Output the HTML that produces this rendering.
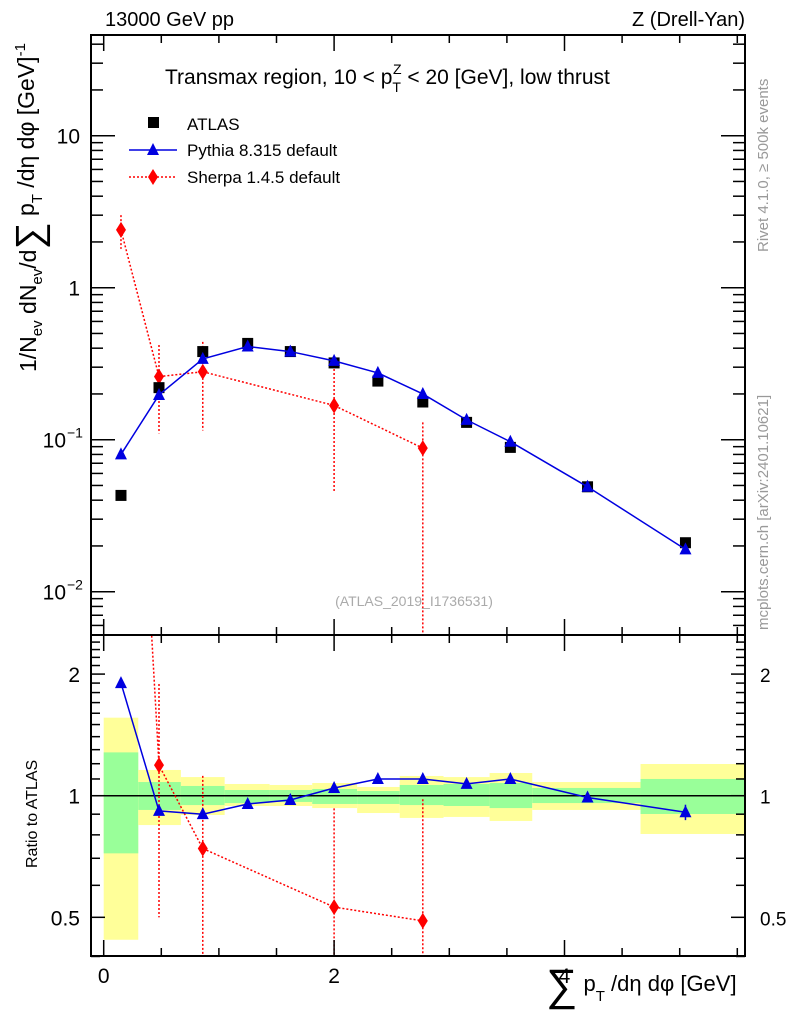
<!DOCTYPE html>
<html><head><meta charset="utf-8"><style>
html,body{margin:0;background:#fff;overflow:hidden;width:786px;height:1024px}
svg{display:block;font-family:"Liberation Sans",sans-serif;overflow:hidden}
</style></head><body>
<svg id="c" width="786" height="1024" viewBox="0 0 786 1024"></svg>
<script>
const xCenters=[0.15,0.48,0.86,1.25,1.62,2.0,2.38,2.77,3.15,3.53,4.2,5.05];
const binEdges=[0,0.3,0.67,1.05,1.44,1.81,2.2,2.57,2.95,3.35,3.72,4.66,5.57];
const atlasVals=[0.043,0.22,0.38,0.43,0.38,0.32,0.243,0.177,0.13,0.089,0.049,0.021];
const pythiaVals=[0.08,0.197,0.34,0.41,0.38,0.33,0.275,0.2,0.135,0.097,0.049,0.019];
const sherpaX=[0.15,0.48,0.86,2.0,2.77];
const sherpaVals=[2.4,0.26,0.28,0.168,0.088];
const sherpaLo=[1.8,0.11,0.115,0.045,0.001];
const sherpaHi=[3.0,0.42,0.44,0.31,0.13];
const pythiaRatio=[1.9,0.917,0.90,0.954,0.976,1.045,1.1,1.1,1.07,1.1,0.99,0.91];
const pythiaRatioErr=[0.05,0.01,0.01,0.005,0.005,0.01,0.01,0.02,0.02,0.025,0.02,0.04];
const sherpaRatio=[55,1.19,0.74,0.53,0.49];
const sherpaRatioLo=[20,0.5,0.2,0.2,0.2];
const sherpaRatioHi=[80,1.89,1.12,0.93,0.98];
const yellowHi=[1.56,1.158,1.112,1.069,1.063,1.075,1.051,1.119,1.112,1.138,1.081,1.198];
const yellowLo=[0.44,0.846,0.896,0.943,0.943,0.932,0.906,0.881,0.886,0.866,0.922,0.804];
const greenHi=[1.28,1.081,1.057,1.033,1.033,1.039,1.027,1.063,1.069,1.075,1.045,1.10];
const greenLo=[0.72,0.922,0.948,0.959,0.965,0.954,0.954,0.948,0.943,0.932,0.959,0.901];
const xTicks=[0,2,4];
const mainTicks=[{v:10,t:"10"},{v:1,t:"1"},{v:0.1,t:"10",e:"−1"},{v:0.01,t:"10",e:"−2"}];
const ratioTicks=[{v:2,t:"2"},{v:1,t:"1"},{v:0.5,t:"0.5"}];
const ratioMinor=[0.4,0.5,0.6,0.7,0.8,0.9,1,1.1,1.2,1.3,1.4,1.5,1.6,1.7,1.8,1.9,2,2.1,2.2,2.3,2.4,2.5];

const L=91,R=745,MT=35,MB=635,RB=956;
const sx=v=>103.7+v*115.2;
const sy=v=>287.7-Math.log10(v)*152;
const ry=v=>795.7-Math.log10(v)*404;
const NS="http://www.w3.org/2000/svg";
const svg=document.getElementById('c');
function mk(tag,attrs,parent){const e=document.createElementNS(NS,tag);for(const k in attrs)e.setAttribute(k,attrs[k]);(parent||svg).appendChild(e);return e;}
const defs=mk('defs',{});
const cp1=mk('clipPath',{id:'cm'},defs);mk('rect',{x:L,y:MT,width:R-L,height:MB-MT},cp1);
const cp2=mk('clipPath',{id:'cr'},defs);mk('rect',{x:L,y:MB,width:R-L,height:RB-MB},cp2);
const gm=mk('g',{'clip-path':'url(#cm)'});

const gr=mk('g',{'clip-path':'url(#cr)'});


for(let i=0;i<yellowHi.length;i++){
 const x0=sx(binEdges[i]),x1=sx(binEdges[i+1]);
 const y=mk('rect',{x:x0,y:ry(yellowHi[i]),width:x1-x0,height:ry(yellowLo[i])-ry(yellowHi[i]),fill:'#ffff99'},gr);
 
 const g=mk('rect',{x:x0,y:ry(greenHi[i]),width:x1-x0,height:ry(greenLo[i])-ry(greenHi[i]),fill:'#99ff99'},gr);
 
}
mk('line',{x1:L,x2:R,y1:ry(1),y2:ry(1),stroke:'#000','stroke-width':1.5},gr);

function tri(x,y,p,name){const t=mk('polygon',{points:`${x-6},${y+5} ${x+6},${y+5} ${x},${y-7}`,fill:'#0000e0'},p);}
function dia(x,y,p,name){const d=mk('polygon',{points:`${x},${y-8} ${x+5},${y} ${x},${y+8} ${x-5},${y}`,fill:'#ff0000'},p);}

mk('polyline',{points:sherpaX.map((x,i)=>sx(x)+','+sy(sherpaVals[i])).join(' '),fill:'none',stroke:'#ff0000','stroke-width':1.5,'stroke-dasharray':'2,2'},gm);
sherpaX.forEach((x,i)=>{mk('line',{x1:sx(x),x2:sx(x),y1:sy(sherpaHi[i]),y2:sy(sherpaLo[i]),stroke:'#ff0000','stroke-width':1.5,'stroke-dasharray':'2,2'},gm);dia(sx(x),sy(sherpaVals[i]),gm,'sherpa-point');});
xCenters.forEach((x,i)=>{const r=mk('rect',{x:sx(x)-5.5,y:sy(atlasVals[i])-5.5,width:11,height:11,fill:'#000'},gm);});
mk('polyline',{points:xCenters.map((x,i)=>sx(x)+','+sy(pythiaVals[i])).join(' '),fill:'none',stroke:'#0000e0','stroke-width':1.5},gm);
xCenters.forEach((x,i)=>tri(sx(x),sy(pythiaVals[i]),gm,'pythia-point'));

mk('polyline',{points:sherpaX.map((x,i)=>sx(x)+','+ry(sherpaRatio[i])).join(' '),fill:'none',stroke:'#ff0000','stroke-width':1.5,'stroke-dasharray':'2,2'},gr);
sherpaX.forEach((x,i)=>{mk('line',{x1:sx(x),x2:sx(x),y1:ry(sherpaRatioHi[i]),y2:ry(sherpaRatioLo[i]),stroke:'#ff0000','stroke-width':1.5,'stroke-dasharray':'2,2'},gr);dia(sx(x),ry(sherpaRatio[i]),gr,'sherpa-ratio-point');});
mk('polyline',{points:xCenters.map((x,i)=>sx(x)+','+ry(pythiaRatio[i])).join(' '),fill:'none',stroke:'#0000e0','stroke-width':1.5},gr);
xCenters.forEach((x,i)=>{const X=sx(x);mk('line',{x1:X,x2:X,y1:ry(pythiaRatio[i]+pythiaRatioErr[i]),y2:ry(pythiaRatio[i]-pythiaRatioErr[i]),stroke:'#0000e0','stroke-width':1.5},gr);tri(X,ry(pythiaRatio[i]),gr,'pythia-ratio-point');});

const f1=mk('rect',{x:L,y:MT,width:R-L,height:MB-MT,fill:'none',stroke:'#000','stroke-width':2});

const f2=mk('rect',{x:L,y:MB,width:R-L,height:RB-MB,fill:'none',stroke:'#000','stroke-width':2});


for(let k=0;k<=11;k++){const v=k*0.5,X=sx(v),len=(k%4===0)?16:8;
 [[MT,1],[MB,-1],[MB,1],[RB,-1]].forEach(([y,d])=>mk('line',{x1:X,x2:X,y1:y,y2:y+d*len,stroke:'#000','stroke-width':1.5}));}
for(let e=-3;e<=1;e++)for(let m=1;m<=9;m++){const v=m*Math.pow(10,e),Y=sy(v);if(Y<MT||Y>MB)continue;const len=m===1?24:12;
 mk('line',{x1:L,x2:L+len,y1:Y,y2:Y,stroke:'#000','stroke-width':1.5});mk('line',{x1:R,x2:R-len,y1:Y,y2:Y,stroke:'#000','stroke-width':1.5});}
ratioMinor.forEach(v=>{const Y=ry(v);const major=[0.5,1,2].some(z=>Math.abs(z-v)<1e-6);const len=major?14:9;
 mk('line',{x1:L,x2:L+len,y1:Y,y2:Y,stroke:'#000','stroke-width':1.5});mk('line',{x1:R,x2:R-len,y1:Y,y2:Y,stroke:'#000','stroke-width':1.5});});

function txt(x,y,s,attrs,name){const t=mk('text',Object.assign({x:x,y:y,'font-size':20},attrs||{}));t.textContent=s;return t;}
xTicks.forEach(v=>txt(sx(v),983,String(v),{'text-anchor':'middle','font-size':21},'x-tick-label'));
mainTicks.forEach(t=>{txt(t.e?66:80,sy(t.v)+8,t.t,{'text-anchor':'end','font-size':21},'y-tick-label');
 if(t.e){txt(67,sy(t.v)-2,t.e,{'font-size':14},'y-tick-exponent');}});
ratioTicks.forEach(t=>{txt(80,ry(t.v)+8,t.t,{'text-anchor':'end','font-size':21},'ratio-tick-label');txt(760,ry(t.v)+8,t.t,{'font-size':19},'ratio-tick-label-right');});

txt(105,26,'13000 GeV pp',{'font-size':20},'energy-label');
txt(745,26,'Z (Drell-Yan)',{'font-size':20,'text-anchor':'end'},'process-label');
const tt=txt(165,84,'',{'font-size':21},'plot-title');
tt.innerHTML='Transmax region, 10 &lt; p<tspan font-size="14" dy="8">T</tspan><tspan font-size="14" dx="-8" dy="-18">Z</tspan><tspan dy="10"> &lt; 20 [GeV], low thrust</tspan>';
txt(414,606,'(ATLAS_2019_I1736531)',{'font-size':14,'text-anchor':'middle',fill:'#aaa'},'analysis-id');

const lr=mk('rect',{x:148,y:117,width:11,height:11,fill:'#000'});
txt(187,130,'ATLAS',{'font-size':17},'legend-atlas');
mk('line',{x1:129,x2:177,y1:150,y2:150,stroke:'#0000e0','stroke-width':1.5});tri(153,150,svg,'legend-pythia-marker');
txt(187,156,'Pythia 8.315 default',{'font-size':17},'legend-pythia');
mk('line',{x1:129,x2:177,y1:177,y2:177,stroke:'#ff0000','stroke-width':1.5,'stroke-dasharray':'2,2'});dia(153,177,svg,'legend-sherpa-marker');
txt(187,183,'Sherpa 1.4.5 default',{'font-size':17},'legend-sherpa');

const yt=txt(0,0,'',{'font-size':23,transform:'translate(36,372) rotate(-90)'},'y-axis-title');
yt.innerHTML='1/N<tspan font-size="15" dy="6">ev</tspan><tspan dy="-6"> dN</tspan><tspan font-size="15" dy="6">ev</tspan><tspan dy="-6">/d</tspan><tspan font-size="38" dy="6">∑</tspan><tspan dy="-8"> p</tspan><tspan font-size="15" dy="8">T</tspan><tspan dy="-8"> /dη dφ  [GeV]</tspan><tspan font-size="15" dy="-9">-1</tspan>';
txt(0,0,'Ratio to ATLAS',{'font-size':16,transform:'translate(37,868) rotate(-90)'},'ratio-axis-title');
txt(0,0,'Rivet 4.1.0, ≥ 500k events',{'font-size':15,fill:'#999',transform:'translate(768,252) rotate(-90)'},'rivet-label');
txt(0,0,'mcplots.cern.ch [arXiv:2401.10621]',{'font-size':15,fill:'#999',transform:'translate(768,630) rotate(-90)'},'mcplots-label');
const xt=txt(546,996,'',{'font-size':22},'x-axis-title');
xt.innerHTML='<tspan font-size="44" dy="4">∑</tspan><tspan dy="-9"> p</tspan><tspan font-size="15" dy="10">T</tspan><tspan dy="-10"> /dη dφ [GeV]</tspan>';
</script>
</body></html>
